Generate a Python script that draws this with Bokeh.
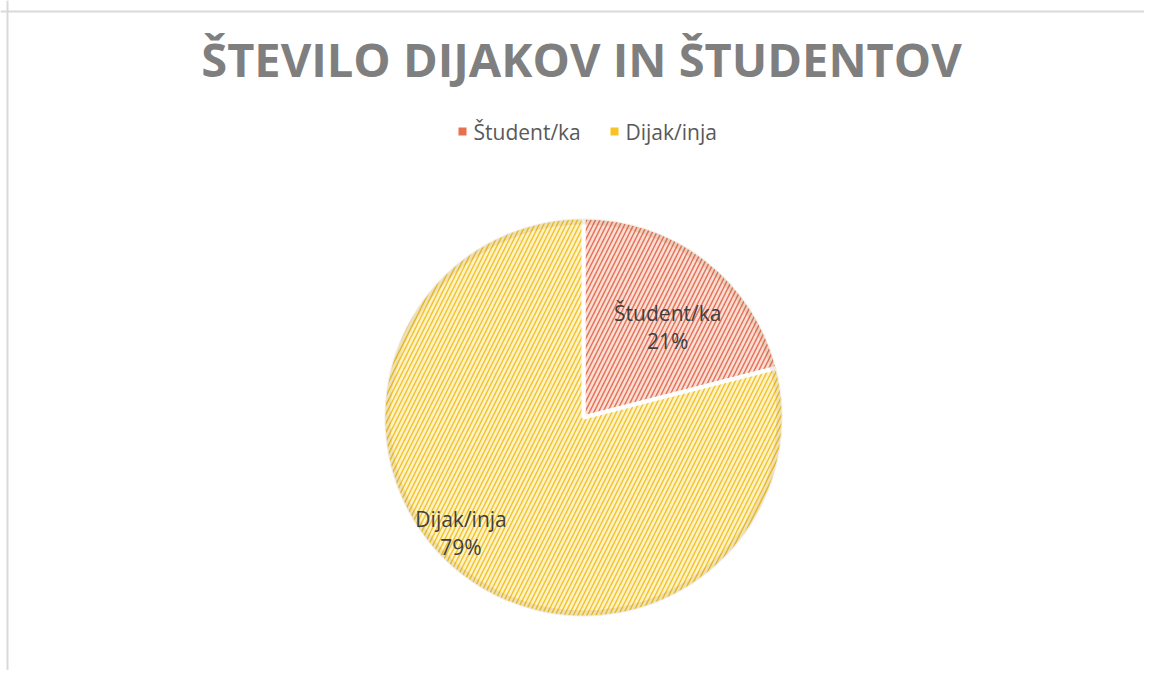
import numpy as np
from bokeh.plotting import figure
from bokeh.models import ColumnDataSource, Span
from bokeh.core.properties import value
from bokeh.embed import file_html
from bokeh.resources import INLINE

title = "ŠTEVILO DIJAKOV IN ŠTUDENTOV"
categories = ["Študent/ka", "Dijak/inja"]
shares = [21, 79]
fill_colors = ["#fbded5", "#fef3c8"]
hatch_colors = ["#e2674a", "#f2be1c"]
legend_colors = ["#e8704f", "#f7c325"]

W, H = 1144, 670
p = figure(width=W, height=H, output_backend="svg", toolbar_location=None,
           x_range=(0, W), y_range=(0, H), min_border=0,
           match_aspect=False)
p.axis.visible = False
p.grid.visible = False
p.outline_line_color = None
p.background_fill_color = "white"

# chart border (left and top visible)
p.add_layout(Span(location=7, dimension="height", line_color="#d9d9d9", line_width=2))
p.add_layout(Span(location=H - 11, dimension="width", line_color="#d9d9d9", line_width=2))

cx, cy, r = 583, 253, 200
vals = np.array(shares, dtype=float)
frac = vals / vals.sum()
ends = np.cumsum(frac)
starts = ends - frac
start_ang = np.pi / 2 - ends * 2 * np.pi
end_ang = np.pi / 2 - starts * 2 * np.pi
mid = (start_ang + end_ang) / 2

src = ColumnDataSource(dict(start=start_ang, end=end_ang, fill=fill_colors,
                            hatch=hatch_colors, cat=categories))
p.wedge(x=cx, y=cy, radius=r, start_angle="start", end_angle="end", source=src,
        fill_color="fill", hatch_color="hatch", hatch_pattern="/", hatch_scale=9,
        hatch_weight=1.5, hatch_alpha=0.9, line_color="white", line_width=4)

# soft inner edge shading
p.annular_wedge(x=cx, y=cy, inner_radius=r - 7, outer_radius=r - 1,
                start_angle="start", end_angle="end", source=src,
                fill_color="#8a6a30", fill_alpha=0.13, line_color=None)

# data labels (Excel "best fit" placement)
lab_rf = np.array([0.62, 0.84])
lab_shift = np.deg2rad(np.array([-5.0, -9.0]))
lx = cx + lab_rf * r * np.cos(mid + lab_shift)
ly = cy + lab_rf * r * np.sin(mid + lab_shift)
pct = [f"{int(round(f * 100))}%" for f in frac]
p.text(x=lx, y=ly + 14, text=categories, text_font=value("Open Sans"),
       text_font_size="21px", text_color="#404040", text_align="center",
       text_baseline="middle")
p.text(x=lx, y=ly - 14, text=pct, text_font=value("Open Sans"),
       text_font_size="21px", text_color="#404040", text_align="center",
       text_baseline="middle")

# title
p.text(x=[581], y=[H - 58], text=[title], text_font=value("Open Sans"),
       text_font_style="bold", text_font_size="47px", text_color="#7f7f7f",
       text_align="center", text_baseline="alphabetic")

# legend
leg_x = np.array([462, 614])
p.scatter(x=leg_x, y=[H - 131, H - 131], marker="square", size=8,
          fill_color=legend_colors, line_color=None)
p.text(x=leg_x + 11, y=[H - 131, H - 131], text=categories, text_font=value("Open Sans"),
       text_font_size="21px", text_color="#595959", text_align="left",
       text_baseline="middle")

open("out.html", "w").write(file_html(p, INLINE))
